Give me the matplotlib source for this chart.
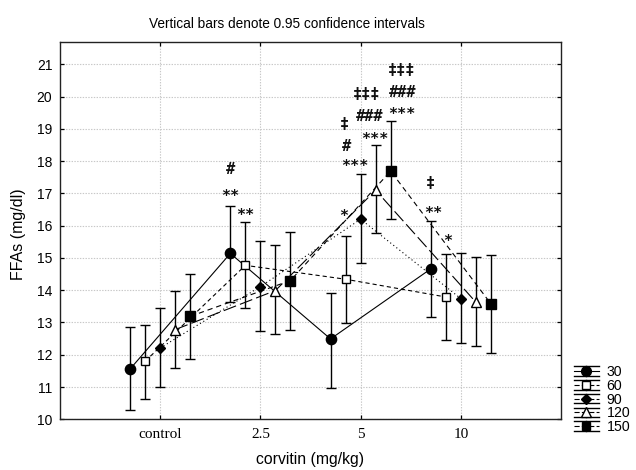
import matplotlib
matplotlib.use('Agg')
import matplotlib.pyplot as plt
import numpy as np
from matplotlib.lines import Line2D
from matplotlib.legend_handler import HandlerBase

plt.rcParams['lines.scale_dashes'] = False
plt.rcParams['font.family'] = ['Liberation Sans', 'DejaVu Sans']

# ---------------- data ----------------
categories = ['control', '2.5', '5', '10']
series_names = ['30', '60', '90', '120', '150']

mean_30 = [11.56, 15.14, 12.49, 14.66]
low_30 = [10.29, 13.64, 10.98, 13.17]
high_30 = [12.86, 16.62, 13.91, 16.14]

mean_60 = [11.80, 14.77, 14.34, 13.79]
low_60 = [10.62, 13.44, 12.98, 12.47]
high_60 = [12.93, 16.12, 15.69, 15.12]

mean_90 = [12.21, 14.11, 16.20, 13.74]
low_90 = [11.00, 12.74, 14.84, 12.35]
high_90 = [13.44, 15.53, 17.59, 15.16]

mean_120 = [12.78, 13.99, 17.10, 13.63]
low_120 = [11.59, 12.63, 15.78, 12.28]
high_120 = [13.99, 15.40, 18.51, 15.04]

mean_150 = [13.19, 14.30, 17.69, 13.58]
low_150 = [11.87, 12.78, 16.21, 12.04]
high_150 = [14.50, 15.81, 19.23, 15.09]

means = [mean_30, mean_60, mean_90, mean_120, mean_150]
lows = [low_30, low_60, low_90, low_120, low_150]
highs = [high_30, high_60, high_90, high_120, high_150]

# significance marks: (category index, series index, text lines bottom->top)
sig_cat = [1, 1, 2, 2, 2, 2, 3, 3]
sig_series = [0, 1, 1, 2, 3, 4, 0, 1]
sig_text = [['**', '#'], ['**'], ['*'], ['***', '#', '‡'],
            ['***', '###', '‡‡‡'], ['***', '###', '‡‡‡'], ['**', '‡'], ['*']]

# ---------------- styles (layout) ----------------
offsets = [-0.3, -0.15, 0.0, 0.15, 0.3]
styles = [
    dict(ls='-', marker='o', mfc='black', ms=7.4),
    dict(ls=(0, (3.0, 2.2)), marker='s', mfc='white', ms=6.4),
    dict(ls=(0, (0.8, 2.0)), marker='D', mfc='black', ms=5.2),
    dict(ls=(0, (9.5, 3.0)), marker='^', mfc='white', ms=7.4),
    dict(ls=(0, (3.8, 2.8)), marker='s', mfc='black', ms=6.8),
]
# per-line placement of significance marks: (dx px, visual-centre dy px above CI top)
sig_place = [
    [(0, 13.6), (0, 37)],
    [(0, 11)],
    [(-1.5, 24)],
    [(-5.7, 12.3), (-13.8, 29), (-15.7, 50.7)],
    [(-0.6, 9.3), (-6, 29.3), (-9, 51)],
    [(11.3, 11), (12, 30.3), (10.5, 51)],
    [(2.3, 11.7), (0, 37.7)],
    [(1.5, 16.7)],
]
sig_fs = 11.0
glyph_center = {'*': 0.59, '#': 0.36, '‡': 0.33}

fig = plt.figure(figsize=(6.36, 4.70), dpi=100)
ax = fig.add_axes([60 / 636, 1 - 419.3 / 470, 501 / 636, 377.6 / 470])

xbase = np.arange(len(categories))
for i, name in enumerate(series_names):
    st = styles[i]
    x = xbase + offsets[i]
    m = np.array(means[i])
    lo = np.array(lows[i])
    hi = np.array(highs[i])
    ax.plot(x, m, color='black', lw=0.8, ls=st['ls'], zorder=3)
    ax.errorbar(x, m, yerr=[m - lo, hi - m], fmt='none', ecolor='black',
                elinewidth=1.0, capsize=3.6, capthick=1.0, zorder=4)
    ax.plot(x, m, ls='none', marker=st['marker'], ms=st['ms'], mfc=st['mfc'],
            mec='black', mew=1.0, zorder=5)

for k in range(len(sig_text)):
    c = sig_cat[k]
    s = sig_series[k]
    xpos = xbase[c] + offsets[s]
    ytop = highs[s][c]
    for txt, (dx, dy) in zip(sig_text[k], sig_place[k]):
        gc = glyph_center[txt[0]] * sig_fs
        ax.annotate(txt, xy=(xpos, ytop), xycoords='data',
                    xytext=(dx * 0.72, dy * 0.72 - gc), textcoords='offset points',
                    ha='center', va='baseline', fontsize=sig_fs,
                    family='DejaVu Sans Mono', fontweight='bold', color='#111111',
                    zorder=6)

ax.set_xlim(-1, 4)
ax.set_ylim(10, 21.7)
ax.set_xticks(xbase)
ax.set_xticklabels(categories, family='Liberation Serif', fontsize=11)
ax.set_yticks(np.arange(10, 22, 1))
ax.tick_params(axis='y', labelsize=10, pad=5.5)
ax.tick_params(direction='in', length=3, top=True, right=True, width=0.9)
ax.tick_params(axis='x', pad=6)
ax.grid(True, ls=(0, (1, 1)), color='#c8c8c8', lw=0.8)
ax.set_axisbelow(True)
for sp in ax.spines.values():
    sp.set_linewidth(1.0)
    sp.set_color('#222222')

ax.set_xlabel('corvitin (mg/kg)', fontsize=11.3, va='center')
ax.xaxis.set_label_coords(0.5, -0.106)
ax.set_ylabel('FFAs (mg/dl)', fontsize=11.5, va='center')
ax.yaxis.set_label_coords(-0.083, 0.49)

fig.text(286.5 / 636, 1 - 24.3 / 470, 'Vertical bars denote 0.95 confidence intervals',
         ha='center', va='center', fontsize=9.8)


class HandlerCI(HandlerBase):
    def create_artists(self, legend, orig_handle, xdescent, ydescent, width,
                       height, fontsize, trans):
        x0 = -xdescent
        x1 = -xdescent + width
        xc = (x0 + x1) / 2
        yc = -ydescent + height / 2
        c = 3.4
        arts = []
        arts.append(Line2D([x0, x1], [yc, yc], color='black', lw=0.8,
                           ls=orig_handle.get_linestyle()))
        arts.append(Line2D([x0, x1], [yc + c, yc + c], color='black', lw=1.0))
        arts.append(Line2D([x0, x1], [yc - c, yc - c], color='black', lw=1.0))
        arts.append(Line2D([xc, xc], [yc - c, yc + c], color='black', lw=1.0))
        arts.append(Line2D([xc], [yc], ls='none', marker=orig_handle.get_marker(),
                           ms=orig_handle.get_markersize(),
                           mfc=orig_handle.get_markerfacecolor(), mec='black', mew=1.0))
        for a in arts:
            a.set_transform(trans)
        return arts


proxies = []
for st in styles:
    ln = Line2D([], [], color='black', ls=st['ls'], marker=st['marker'],
                ms=st['ms'] * 0.95, mfc=st['mfc'], mec='black')
    proxies.append(ln)

leg_fs = 10.2
fig.legend(proxies, series_names, loc='center left',
           bbox_to_anchor=(574 / 636, 1 - 399.5 / 470),
           frameon=False, fontsize=leg_fs, handlelength=1.75, handletextpad=0.55,
           labelspacing=-0.02, borderpad=0, borderaxespad=0, handleheight=0.7,
           handler_map={Line2D: HandlerCI()})

fig.savefig('out.png', dpi=100)
